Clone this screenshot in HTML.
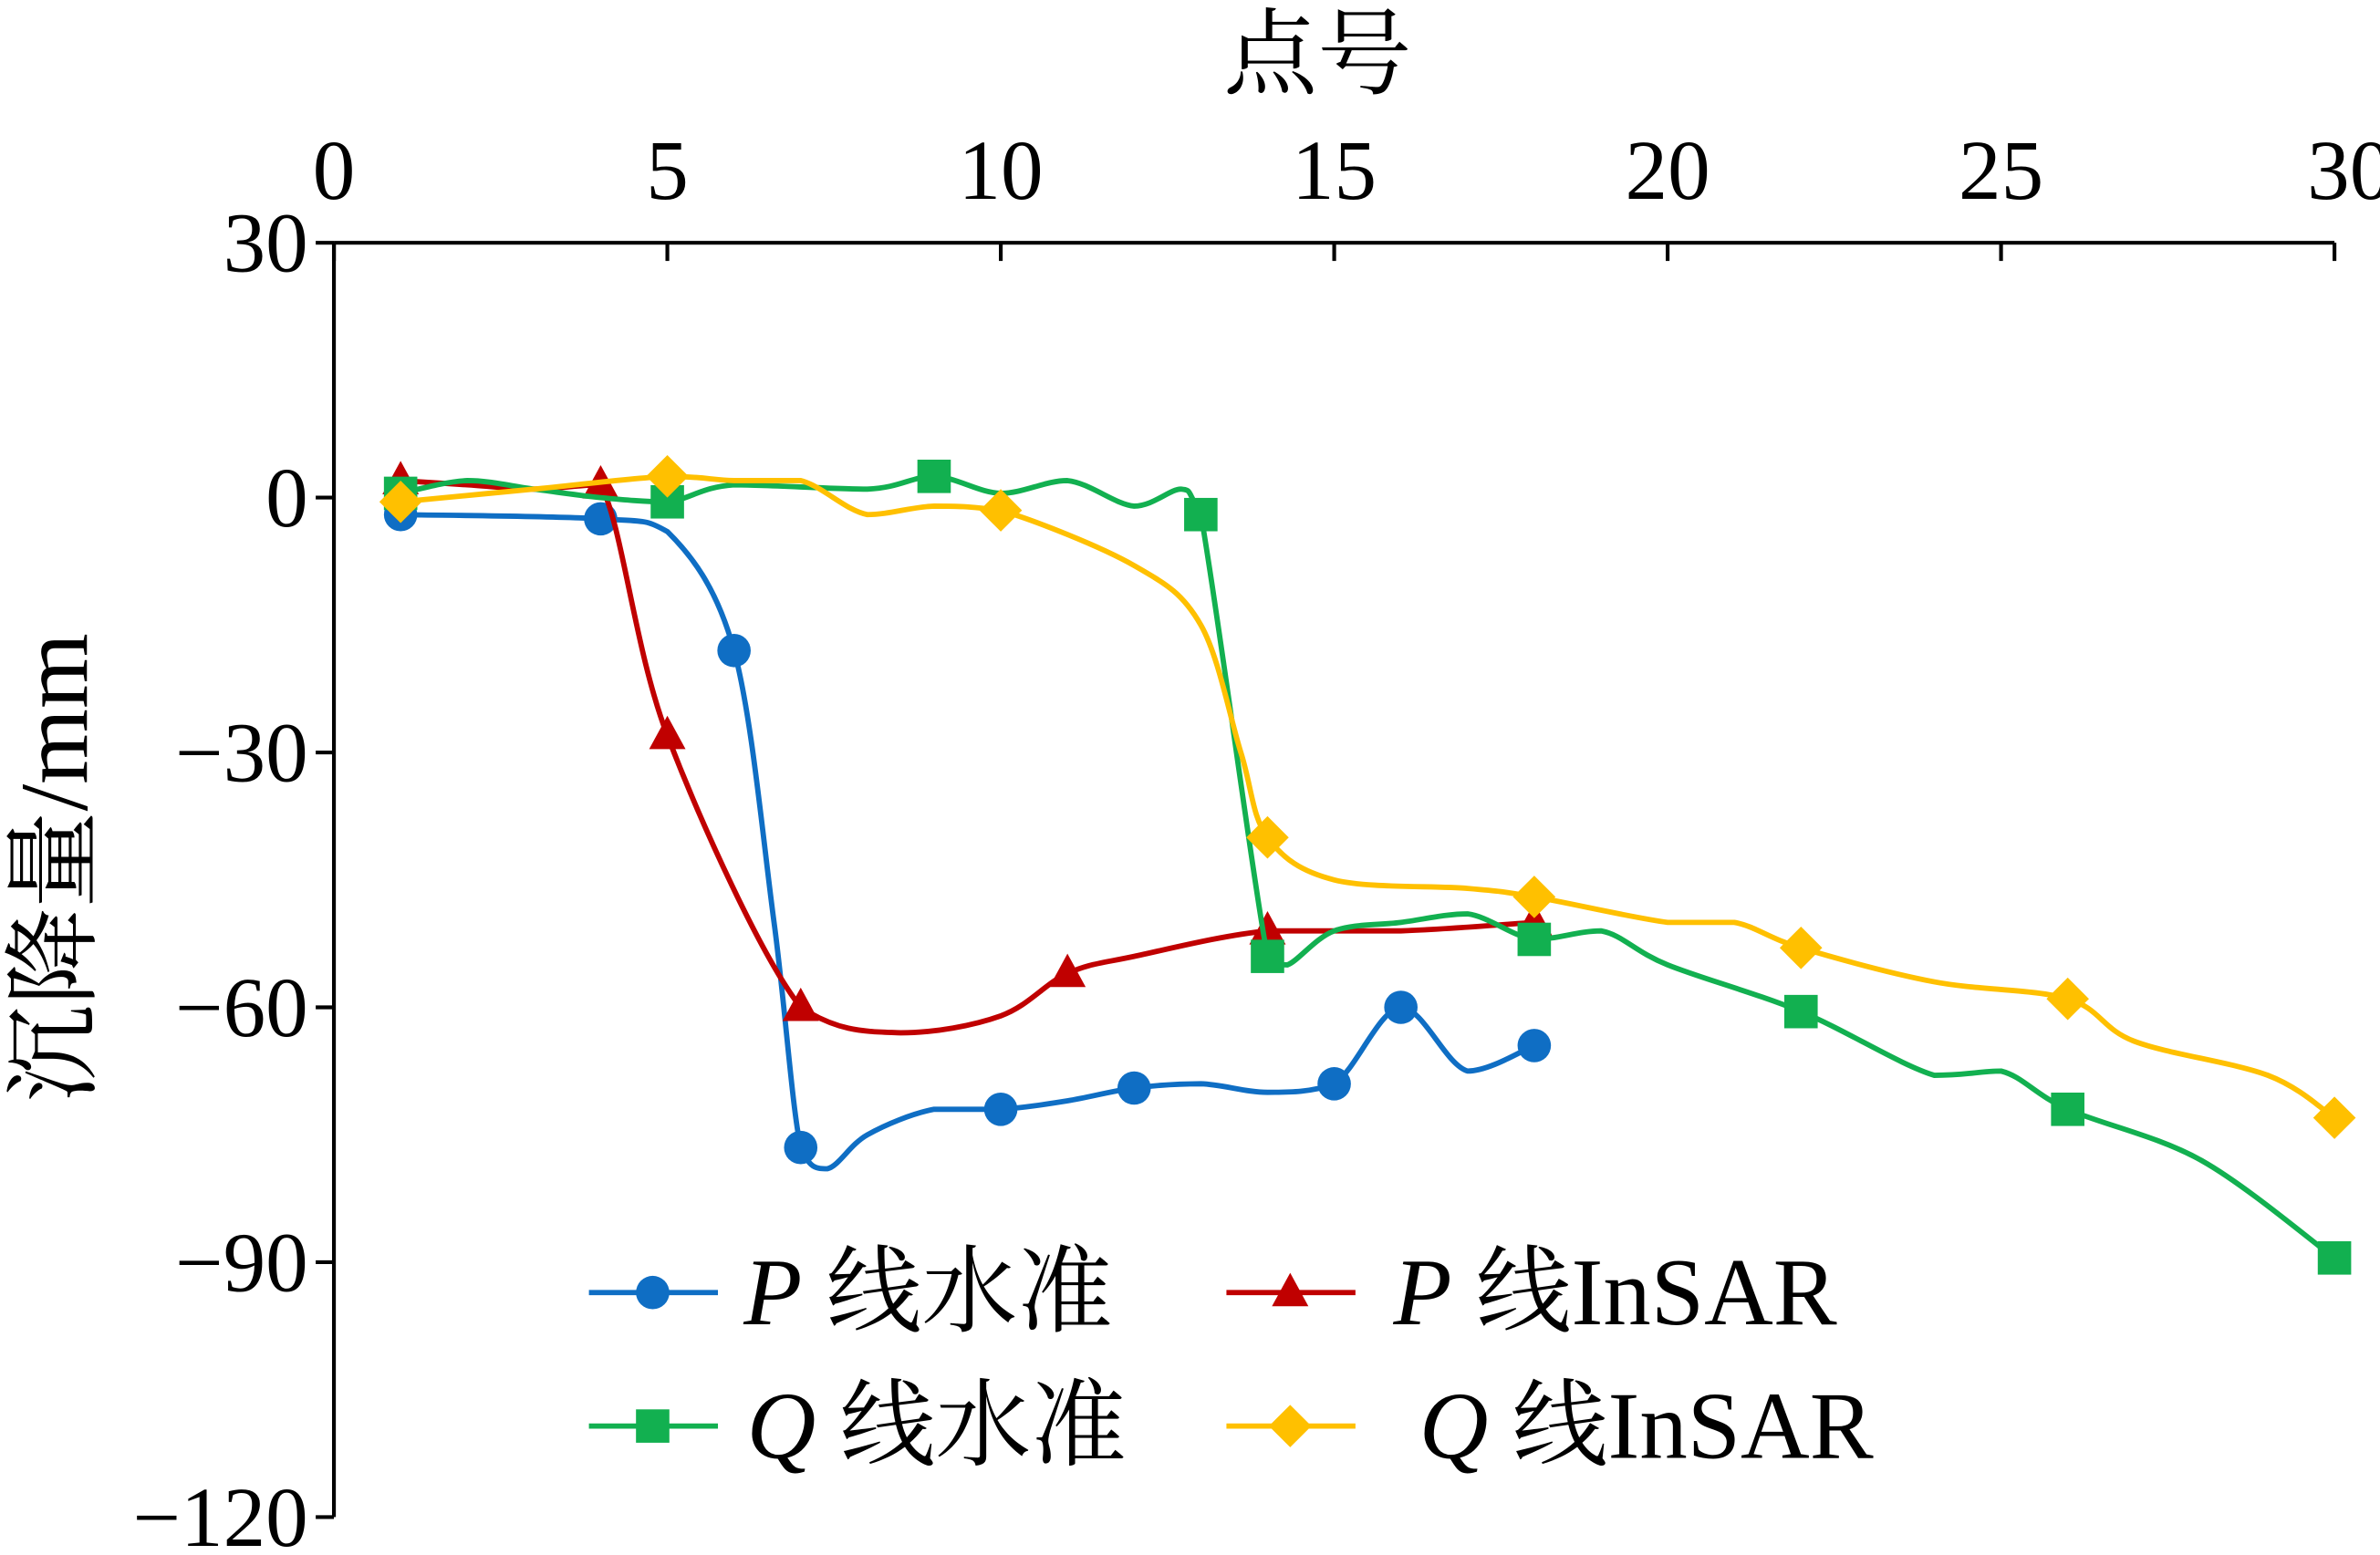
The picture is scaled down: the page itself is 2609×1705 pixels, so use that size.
<!DOCTYPE html>
<html><head><meta charset="utf-8"><style>
html,body{margin:0;padding:0;background:#fff;}
svg{display:block;}
text{font-family:"Liberation Serif","Noto Serif CJK SC",serif;fill:#000;}
</style></head><body>
<svg id="chart" width="2609" height="1705" viewBox="0 0 1568 1025" preserveAspectRatio="none" xmlns="http://www.w3.org/2000/svg">
<g id="axes"></g>
<g id="series"></g>
<g id="legend"></g>
</svg>
<script>
// x tick labels / y tick labels
const xTicks = [0,5,10,15,20,25,30];
const yTicks = [30,0,-30,-60,-90,-120];
// P line leveling
const pLevX = [1,4,5,6,6.6,7,7.4,8,9,10,11,12,13,14,15,16,17,18];
const pLevY = [-2,-2.5,-4,-18,-50,-76.5,-79,-75,-72,-72,-71,-69.5,-69,-70,-69,-60,-67.5,-64.5];
const pLevMarkX = [1,4,6,7,10,12,15,16,18];
const pLevMarkY = [-2,-2.5,-18,-76.5,-72,-69.5,-69,-60,-64.5];
// P line InSAR
const pInsX = [1,2,3,4,5,7,8.5,10,11,12,14,16,18];
const pInsY = [2,1.5,1,1.5,-28,-60,-63,-61,-56,-54,-51,-51,-50];
const pInsMarkX = [1,4,5,7,11,14,18];
const pInsMarkY = [2,1.5,-28,-60,-56,-51,-50];
// Q line leveling
const qLevX = [1,2,3,4,5,6,8,9,10,11,12,12.7,13,14,14.3,15,16,17,18,19,20,22,24,25,26,28,30];
const qLevY = [0.5,2,1,0,-0.5,1.5,1,2.5,0.5,2,-1,1,-2,-54,-55,-51,-50,-49,-52,-51,-55,-60.5,-68,-67.5,-72,-78,-89.5];
const qLevMarkX = [1,5,9,13,14,18,22,26,30];
const qLevMarkY = [0.5,-0.5,2.5,-2,-54,-52,-60.5,-72,-89.5];
// Q line InSAR
const qInsX = [1,3,5,6,7,8,9,10,12,13,13.6,14,15,17,18,20,21,22,24,26,27,29,30];
const qInsY = [-0.5,1,2.5,2,2,-2,-1,-1.5,-8,-15,-30,-40,-45,-46,-47,-50,-50,-53,-57,-59,-64,-68,-73];
const qInsMarkX = [1,5,10,14,18,22,26,30];
const qInsMarkY = [-0.5,2.5,-1.5,-40,-47,-53,-59,-73];

const NS="http://www.w3.org/2000/svg";
const X0=220,X1=1538,Y0=160,Y1=1000;
const sx=v=>X0+(v-0)/30*(X1-X0);
const sy=v=>Y0+(30-v)/150*(Y1-Y0);
function mk(tag,attrs,parent){const e=document.createElementNS(NS,tag);for(const k in attrs)e.setAttribute(k,attrs[k]);parent.appendChild(e);return e;}
const axes=document.getElementById('axes');
let e=mk('line',{x1:X0,y1:Y0,x2:X1,y2:Y0,stroke:'#000','stroke-width':2.5},axes);


e=mk('line',{x1:X0,y1:Y0,x2:X0,y2:Y1,stroke:'#000','stroke-width':2.5},axes);


xTicks.forEach(t=>{
  const x=sx(t);
  const l=mk('line',{x1:x,y1:Y0,x2:x,y2:Y0+12,stroke:'#000','stroke-width':2.5},axes);
  
  
  const tx=mk('text',{x:x+(t===30?10:0),y:131,'font-size':56,'text-anchor':'middle'},axes);tx.textContent=t;
  
  
});
yTicks.forEach(t=>{
  const y=sy(t);
  const l=mk('line',{x1:X0-12,y1:y,x2:X0,y2:y,stroke:'#000','stroke-width':2.5},axes);
  
  
  const tx=mk('text',{x:203,y:y+19,'font-size':56,'text-anchor':'end'},axes);tx.textContent=String(t).replace('-','\u2212');
  
  
});
e=mk('text',{x:868,y:57,'font-size':62,'text-anchor':'middle'},axes);e.textContent='点号';


e=mk('text',{x:0,y:0,'font-size':64,'text-anchor':'middle',transform:'translate(57,572) rotate(-90)'},axes);e.textContent='沉降量/mm';



function clamp(v,a,b){const lo=Math.min(a,b),hi=Math.max(a,b);return Math.max(lo,Math.min(hi,v));}
function smooth(xs,ys){
  const p=xs.map((x,i)=>[sx(x),sy(ys[i])]);
  let d='M'+p[0][0]+','+p[0][1];
  for(let i=0;i<p.length-1;i++){
    const p0=p[Math.max(0,i-1)],p1=p[i],p2=p[i+1],p3=p[Math.min(p.length-1,i+2)];
    const c1=[p1[0]+(p2[0]-p0[0])/6,clamp(p1[1]+(p2[1]-p0[1])/6,p1[1],p2[1])];
    const c2=[p2[0]-(p3[0]-p1[0])/6,clamp(p2[1]-(p3[1]-p1[1])/6,p1[1],p2[1])];
    c1[0]=clamp(c1[0],p1[0],p2[0]);c2[0]=clamp(c2[0],p1[0],p2[0]);
    d+=` C${c1[0]},${c1[1]} ${c2[0]},${c2[1]} ${p2[0]},${p2[1]}`;
  }
  return d;
}
function marker(g,type,x,y,color){
  let m;
  if(type==='circle')m=mk('circle',{cx:x,cy:y,r:11,fill:color},g);
  else if(type==='tri')m=mk('polygon',{points:`${x},${y-13} ${x-12},${y+9} ${x+12},${y+9}`,fill:color},g);
  else if(type==='sq')m=mk('rect',{x:x-11,y:y-11,width:22,height:22,fill:color},g);
  else m=mk('polygon',{points:`${x},${y-14} ${x+14},${y} ${x},${y+14} ${x-14},${y}`,fill:color},g);
  return m;
}
const ser=document.getElementById('series');
const defs=[
 ['p-leveling',pLevX,pLevY,pLevMarkX,pLevMarkY,'#0f6ec4','circle'],
 ['p-insar',pInsX,pInsY,pInsMarkX,pInsMarkY,'#c00000','tri'],
 ['q-leveling',qLevX,qLevY,qLevMarkX,qLevMarkY,'#12b050','sq'],
 ['q-insar',qInsX,qInsY,qInsMarkX,qInsMarkY,'#ffc000','dia']
];
defs.forEach(([n,xs,ys,mx,my,c,t])=>{
  const g=mk('g',{},ser);
  
  
  const p=mk('path',{d:smooth(xs,ys),fill:'none',stroke:c,'stroke-width':3.5},g);
  
  
  mx.forEach((x,i)=>{
    const m=marker(g,t,sx(x),sy(my[i]),c);
    
    
  });
});
const leg=document.getElementById('legend');
const items=[
 [388,852,'#0f6ec4','circle',[['P','i'],[' 线水准','']],490],
 [808,852,'#c00000','tri',[['P','i'],[' 线InSAR','']],918],
 [388,940,'#12b050','sq',[['Q','i'],[' 线水准','']],492],
 [808,940,'#ffc000','dia',[['Q','i'],[' 线InSAR','']],935]
];
items.forEach(([x,y,c,t,parts,tx])=>{
  const g=mk('g',{},leg);
  
  
  mk('line',{x1:x,y1:y,x2:x+85,y2:y,stroke:c,'stroke-width':3.5},g);
  marker(g,t,x+42,y,c);
  const te=mk('text',{x:tx,y:y+21,'font-size':63},g);
  parts.forEach(([s,st])=>{const sp=mk('tspan',st?{'font-style':'italic'}:{},te);sp.textContent=s;});
});
</script>
</body></html>
